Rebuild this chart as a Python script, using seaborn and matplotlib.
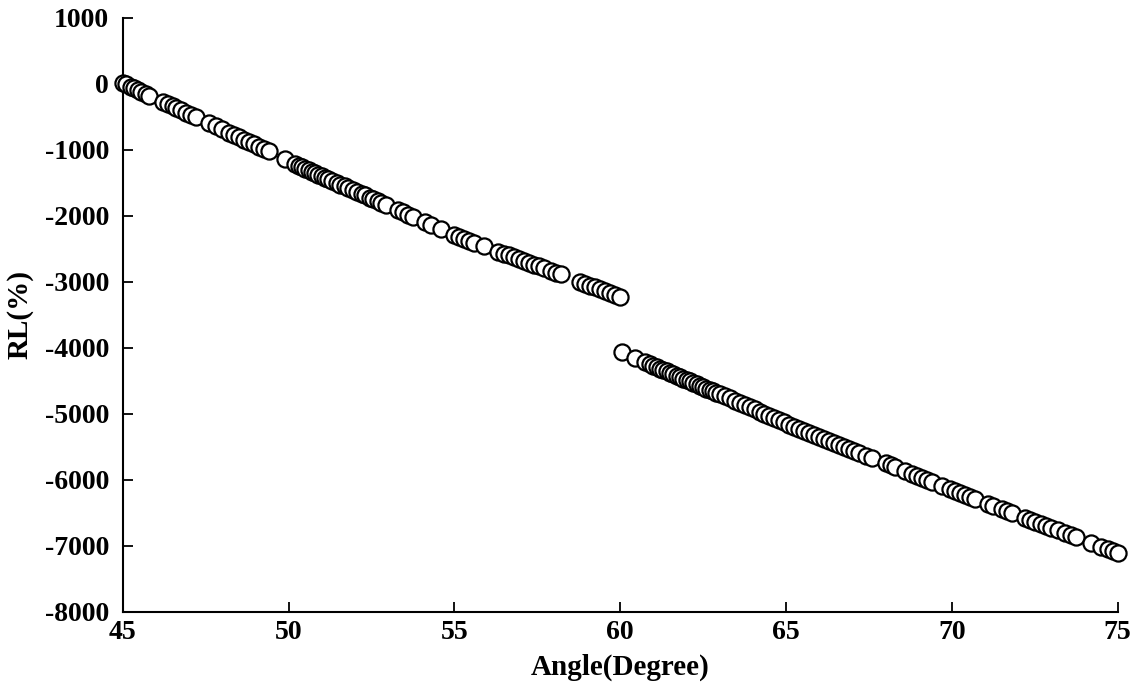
import matplotlib
matplotlib.use("Agg")
import matplotlib.pyplot as plt
import seaborn as sns
import pandas as pd

# Segment 1 (45-60 degrees)
angle_seg1 = [45.0, 45.1, 45.25, 45.35, 45.45, 45.55, 45.7, 45.8,
              46.2, 46.35, 46.5, 46.6, 46.75, 46.9, 47.05, 47.2,
              47.6, 47.8, 48.0, 48.2, 48.35, 48.5, 48.65, 48.8, 48.95, 49.1, 49.25, 49.4,
              49.9,
              50.2, 50.3, 50.4, 50.5, 50.6, 50.7, 50.8, 50.9, 51.0, 51.1, 51.2, 51.3, 51.45,
              51.55, 51.7, 51.8, 51.95, 52.05, 52.2, 52.3, 52.45, 52.55, 52.7, 52.8, 52.95,
              53.3, 53.45, 53.6, 53.75,
              54.1, 54.3, 54.6,
              55.0, 55.15, 55.3, 55.45, 55.6,
              55.9, 56.3, 56.5, 56.65, 56.8, 56.95, 57.1, 57.25, 57.4, 57.55, 57.7, 57.9,
              58.05, 58.2,
              58.8, 58.95, 59.1, 59.25, 59.4, 59.55, 59.7, 59.85, 60.0]
rl_seg1 = [20, -10, -45, -70, -95, -120, -155, -180,
           -270, -305, -340, -365, -400, -435, -470, -505,
           -600, -645, -690, -740, -775, -810, -845, -880, -915, -950, -985, -1020,
           -1145,
           -1220, -1245, -1265, -1290, -1310, -1335, -1355, -1380, -1400, -1425, -1445, -1470, -1500,
           -1525, -1555, -1580, -1615, -1635, -1670, -1690, -1725, -1745, -1780, -1800, -1835,
           -1910, -1945, -1980, -2010,
           -2090, -2135, -2200,
           -2290, -2320, -2350, -2380, -2405,
           -2460, -2540, -2575, -2600, -2630, -2655, -2685, -2710, -2740, -2765, -2795, -2830,
           -2860, -2885,
           -3000, -3030, -3060, -3085, -3115, -3140, -3170, -3195, -3225]

# Segment 2 (60-75 degrees)
angle_seg2 = [60.05, 60.45, 60.75, 60.9, 61.0, 61.1, 61.2, 61.3, 61.4, 61.5, 61.6, 61.7,
              61.8, 61.9, 62.0, 62.1, 62.2, 62.3, 62.4, 62.5, 62.6, 62.7, 62.8, 62.9, 63.0,
              63.15, 63.3, 63.45, 63.6, 63.75, 63.9, 64.05, 64.2, 64.35, 64.5, 64.65, 64.8,
              64.95, 65.1, 65.25, 65.4, 65.55, 65.7, 65.85, 66.0, 66.15, 66.3, 66.45, 66.6,
              66.75, 66.9, 67.05, 67.2, 67.4, 67.6, 68.0, 68.15, 68.3, 68.6, 68.8, 68.95,
              69.1, 69.25, 69.4, 69.7, 69.95, 70.1, 70.25, 70.4, 70.55, 70.7, 71.1, 71.25,
              71.5, 71.65, 71.8, 72.2, 72.35, 72.5, 72.7, 72.85, 73.0, 73.2, 73.4, 73.6,
              73.75, 74.2, 74.5, 74.7, 74.85, 75.0]
rl_seg2 = [-4060, -4150, -4215, -4250, -4270, -4290, -4315, -4335, -4355, -4380, -4400, -4420,
           -4440, -4465, -4485, -4505, -4530, -4550, -4570, -4595, -4615, -4635, -4660, -4680, -4700,
           -4735, -4765, -4800, -4830, -4865, -4895, -4930, -4965, -4995, -5030, -5060, -5095,
           -5125, -5170, -5200, -5230, -5260, -5290, -5320, -5350, -5380, -5410, -5440, -5470,
           -5500, -5530, -5560, -5590, -5630, -5670, -5750, -5780, -5810, -5870, -5910, -5940,
           -5970, -6000, -6030, -6090, -6140, -6170, -6200, -6225, -6255, -6285, -6360, -6390,
           -6440, -6465, -6495, -6570, -6600, -6630, -6670, -6695, -6725, -6765, -6800, -6840,
           -6870, -6955, -7015, -7050, -7080, -7110]

x_ticks = [45, 50, 55, 60, 65, 70, 75]
y_ticks = [1000, 0, -1000, -2000, -3000, -4000, -5000, -6000, -7000, -8000]

sns.set_theme(style="ticks")
plt.rcParams['font.family'] = ['Liberation Serif', 'DejaVu Serif']
plt.rcParams['font.weight'] = 'bold'

df = pd.DataFrame({"Angle": angle_seg1 + angle_seg2, "RL": rl_seg1 + rl_seg2})

fig = plt.figure(figsize=(11.37, 6.85), dpi=100)
ax = fig.add_axes([0.108, 0.1066, 0.875, 0.8674])

sns.scatterplot(data=df, x="Angle", y="RL", ax=ax, marker="o", s=135,
                facecolor="white", edgecolor="black", linewidth=1.6, legend=False,
                clip_on=False, zorder=3)

ax.set_xlim(45, 75)
ax.set_ylim(-8000, 1000)
ax.set_xticks(x_ticks)
ax.set_yticks(y_ticks)
ax.set_xticklabels([str(t) for t in x_ticks], fontsize=20, fontweight='bold')
ax.set_yticklabels([str(t) for t in y_ticks], fontsize=20, fontweight='bold')
ax.tick_params(axis='both', direction='in', length=7, width=1.3, colors='black')
ax.tick_params(axis='x', pad=6)
ax.tick_params(axis='y', pad=10)
for side in ['top', 'right']:
    ax.spines[side].set_visible(False)
for side in ['left', 'bottom']:
    ax.spines[side].set_linewidth(1.5)
    ax.spines[side].set_color('black')

ax.set_xlabel("Angle(Degree)", fontsize=21, fontweight='bold', labelpad=6, color='black')
ax.set_ylabel("RL(%)", fontsize=21, fontweight='bold', labelpad=8, color='black')

fig.savefig("out.png", dpi=100, facecolor="white")
